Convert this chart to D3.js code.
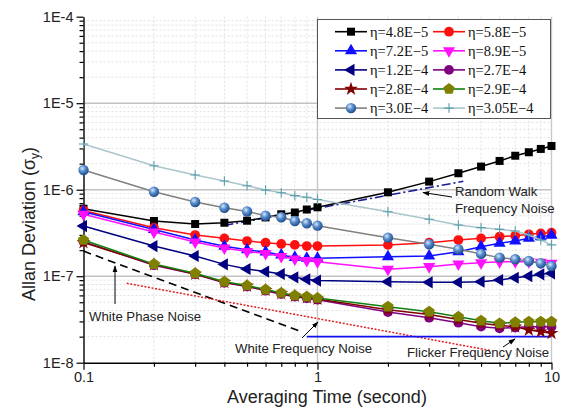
<!DOCTYPE html>
<html>
<head>
<meta charset="utf-8">
<script src="https://cdn.jsdelivr.net/npm/d3@7"></script>
<style>
  body { margin: 0; background: #fff; }
  svg { display: block; }
</style>
</head>
<body>
<svg id="chart" width="564" height="411"></svg>
<script>
// Averaging times (s)
const tau = [0.1, 0.2, 0.3, 0.4, 0.5, 0.6, 0.7, 0.8, 0.9, 1, 2, 3, 4, 5, 6, 7, 8, 9, 10];

// Allan deviation for each coupling value
const eta48  = [6.03e-7, 4.35e-7, 4.01e-7, 4.15e-7, 4.38e-7, 4.78e-7, 5.2e-7, 5.45e-7, 5.9e-7, 6.26e-7, 9.33e-7, 1.24e-6, 1.55e-6, 1.85e-6, 2.15e-6, 2.47e-6, 2.71e-6, 2.96e-6, 3.2e-6];
const eta58  = [5.75e-7, 3.64e-7, 2.99e-7, 2.74e-7, 2.55e-7, 2.44e-7, 2.36e-7, 2.3e-7, 2.23e-7, 2.23e-7, 2.3e-7, 2.44e-7, 2.62e-7, 2.74e-7, 2.86e-7, 2.94e-7, 3.05e-7, 3.13e-7, 3.18e-7];
const eta72  = [5.55e-7, 3.47e-7, 2.62e-7, 2.22e-7, 2.02e-7, 1.9e-7, 1.76e-7, 1.65e-7, 1.61e-7, 1.61e-7, 1.68e-7, 1.71e-7, 1.92e-7, 2.19e-7, 2.4e-7, 2.55e-7, 2.74e-7, 2.86e-7, 2.97e-7];
const eta89  = [5.2e-7, 3.24e-7, 2.49e-7, 2.12e-7, 1.93e-7, 1.83e-7, 1.69e-7, 1.58e-7, 1.52e-7, 1.47e-7, 1.2e-7, 1.29e-7, 1.38e-7, 1.43e-7, 1.47e-7, 1.47e-7, 1.47e-7, 1.45e-7, 1.41e-7];
const eta120 = [3.8e-7, 2.23e-7, 1.71e-7, 1.37e-7, 1.21e-7, 1.13e-7, 1.06e-7, 9.7e-8, 9.2e-8, 8.9e-8, 8.64e-8, 8.5e-8, 8.5e-8, 8.64e-8, 9.04e-8, 9.6e-8, 1.0e-7, 1.05e-7, 1.08e-7];
const eta270 = [2.5e-7, 1.34e-7, 1.05e-7, 8.4e-8, 7.6e-8, 6.8e-8, 6.2e-8, 5.8e-8, 5.55e-8, 5.35e-8, 3.85e-8, 3.31e-8, 2.9e-8, 2.61e-8, 2.5e-8, 2.55e-8, 2.6e-8, 2.6e-8, 2.6e-8];
const eta280 = [2.45e-7, 1.36e-7, 1.06e-7, 8.5e-8, 7.7e-8, 6.9e-8, 6.3e-8, 5.9e-8, 5.65e-8, 5.45e-8, 4.1e-8, 3.6e-8, 3.15e-8, 2.85e-8, 2.7e-8, 2.6e-8, 2.39e-8, 2.28e-8, 2.19e-8];
const eta290 = [2.62e-7, 1.38e-7, 1.08e-7, 8.64e-8, 7.8e-8, 7.0e-8, 6.4e-8, 6.0e-8, 5.8e-8, 5.6e-8, 4.44e-8, 3.89e-8, 3.4e-8, 3.06e-8, 2.85e-8, 2.93e-8, 2.98e-8, 2.98e-8, 2.98e-8];
const eta300 = [1.69e-6, 9.48e-7, 7.21e-7, 6.19e-7, 5.6e-7, 5.0e-7, 4.8e-7, 4.35e-7, 4.09e-7, 3.84e-7, 2.79e-7, 2.34e-7, 2.05e-7, 1.81e-7, 1.64e-7, 1.57e-7, 1.5e-7, 1.41e-7, 1.31e-7];
const eta305 = [3.37e-6, 1.89e-6, 1.48e-6, 1.26e-6, 1.11e-6, 9.9e-7, 9.23e-7, 8.53e-7, 8.17e-7, 7.7e-7, 5.57e-7, 4.55e-7, 3.91e-7, 3.64e-7, 3.48e-7, 3.33e-7, 2.99e-7, 2.62e-7, 2.3e-7];

const seriesLabels = ["η=4.8E−5", "η=5.8E−5", "η=7.2E−5", "η=8.9E−5", "η=1.2E−4",
                      "η=2.7E−4", "η=2.8E−4", "η=2.9E−4", "η=3.0E−4", "η=3.05E−4"];
const seriesValues = [eta48, eta58, eta72, eta89, eta120, eta270, eta280, eta290, eta300, eta305];

// Noise-type guide lines (endpoints in tau, sigma)
const whitePhaseLine = [[0.1, 1.95e-7], [0.85, 2.29e-8]];
const whiteFreqLine  = [[0.153, 8.28e-8], [5.5, 1.38e-8]];
const randomWalkLine = [[0.4, 3.86e-7], [4.2, 1.25e-6]];
const flickerLine    = [[0.9, 2.0e-8], [10, 2.0e-8]];

// Tick labels
const yTickValues = [1e-8, 1e-7, 1e-6, 1e-5, 1e-4];
const yTickLabels = ["1E-8", "1E-7", "1E-6", "1E-5", "1E-4"];
const xTickValues = [0.1, 1, 10];
const xTickLabels = ["0.1", "1", "10"];

// ---- layout ----
const svg = d3.select("#chart");
const L = 83.5, R = 551.5, T = 16.7, B = 362.7;
const x = d3.scaleLog().domain([0.1, 10]).range([L, R]);
const y = d3.scaleLog().domain([1e-8, 1e-4]).range([B, T]);

const defs = svg.append("defs");
const grad = defs.append("radialGradient").attr("id", "sphere")
  .attr("cx", "38%").attr("cy", "35%").attr("r", "65%");
grad.append("stop").attr("offset", "0%").attr("stop-color", "#d9e8f8");
grad.append("stop").attr("offset", "45%").attr("stop-color", "#5b8fcf");
grad.append("stop").attr("offset", "100%").attr("stop-color", "#1f4e8c");

defs.append("marker").attr("id", "arrow")
  .attr("viewBox", "0 0 10 10").attr("refX", 9).attr("refY", 5)
  .attr("markerWidth", 7).attr("markerHeight", 7).attr("orient", "auto")
  .append("path").attr("d", "M0,1.5 L10,5 L0,8.5 Z").attr("fill", "#000");

// minor values
const yMinor = [];
[1e-8, 1e-7, 1e-6, 1e-5].forEach(d => { for (let k = 2; k <= 9; k++) yMinor.push(k * d); });
const xMinor = [];
[0.1, 1].forEach(d => { for (let k = 2; k <= 9; k++) xMinor.push(k * d); });

// ---- grid ----
const grid = svg.append("g");
grid.selectAll(".hmin").data(yMinor).join("line")
  .attr("x1", L).attr("x2", R).attr("y1", d => y(d)).attr("y2", d => y(d))
  .attr("stroke", "#dcdcdc").attr("stroke-width", 0.9).attr("stroke-dasharray", "2,2");
grid.selectAll(".vmin").data(xMinor).join("line")
  .attr("y1", T).attr("y2", B).attr("x1", d => x(d)).attr("x2", d => x(d))
  .attr("stroke", "#dcdcdc").attr("stroke-width", 0.9).attr("stroke-dasharray", "2,2");
grid.selectAll(".hmaj").data([1e-7, 1e-6, 1e-5]).join("line")
  .attr("x1", L).attr("x2", R).attr("y1", d => y(d)).attr("y2", d => y(d))
  .attr("stroke", "#c2c2c2").attr("stroke-width", 1.6);
grid.selectAll(".vmaj").data([1, 10]).join("line")
  .attr("y1", T).attr("y2", B).attr("x1", d => x(d)).attr("x2", d => x(d))
  .attr("stroke", "#c8c8c8").attr("stroke-width", 1.4);

// ---- axes ----
const fontSans = "'Liberation Sans', Arial, sans-serif";
svg.append("g").attr("transform", `translate(${L},0)`)
  .call(d3.axisLeft(y).tickValues(yTickValues).tickFormat((d, i) => yTickLabels[i])
    .tickSize(7).tickSizeOuter(0).tickPadding(3));
svg.append("g").attr("transform", `translate(${L},0)`)
  .call(d3.axisLeft(y).tickValues(yMinor).tickFormat("").tickSize(4).tickSizeOuter(0))
  .select(".domain").remove();
svg.append("g").attr("transform", `translate(0,${B})`)
  .call(d3.axisBottom(x).tickValues(xTickValues).tickFormat((d, i) => xTickLabels[i])
    .tickSize(7).tickSizeOuter(0).tickPadding(2));
svg.append("g").attr("transform", `translate(0,${B})`)
  .call(d3.axisBottom(x).tickValues(xMinor).tickFormat("").tickSize(4).tickSizeOuter(0))
  .select(".domain").remove();
svg.selectAll(".tick line").attr("stroke", "#000").attr("stroke-width", 1.2);
svg.selectAll(".domain").attr("stroke", "#000").attr("stroke-width", 1.4);
svg.selectAll(".tick text").attr("font-family", fontSans).attr("font-size", 14.5).attr("fill", "#222");

// axis titles
svg.append("text").attr("x", 327).attr("y", 402.5).attr("text-anchor", "middle")
  .attr("font-family", fontSans).attr("font-size", 18).attr("fill", "#222")
  .text("Averaging Time (second)");
const yt = svg.append("text").attr("transform", "translate(35,224) rotate(-90)")
  .attr("text-anchor", "middle").attr("font-family", fontSans).attr("font-size", 18).attr("fill", "#222");
yt.append("tspan").text("Allan Deviation (σ");
yt.append("tspan").attr("font-size", 12).attr("dy", 4).text("y");
yt.append("tspan").attr("dy", -4).text(")");

// ---- guide lines ----
const line = d3.line().x(d => x(d[0])).y(d => y(d[1]));
svg.append("path").attr("d", line(whitePhaseLine)).attr("fill", "none")
  .attr("stroke", "#000").attr("stroke-width", 1.6).attr("stroke-dasharray", "8,5");
svg.append("path").attr("d", line(whiteFreqLine)).attr("fill", "none")
  .attr("stroke", "#e02020").attr("stroke-width", 1.5).attr("stroke-dasharray", "2,1.6");
svg.append("path").attr("d", line(randomWalkLine)).attr("fill", "none")
  .attr("stroke", "#1a1a9a").attr("stroke-width", 1.6).attr("stroke-dasharray", "9,3,2,3");
svg.append("path").attr("d", line(flickerLine)).attr("fill", "none")
  .attr("stroke", "#1010ee").attr("stroke-width", 1.6);

// ---- series ----
const pentagon = {
  draw(ctx, size) {
    const r = Math.sqrt(size / (2.5 * Math.sin(2 * Math.PI / 5)));
    for (let i = 0; i < 5; i++) {
      const a = -Math.PI / 2 + i * 2 * Math.PI / 5;
      const px = r * Math.cos(a), py = r * Math.sin(a);
      if (i === 0) ctx.moveTo(px, py); else ctx.lineTo(px, py);
    }
    ctx.closePath();
  }
};
const plus = {
  draw(ctx, size) {
    const r = Math.sqrt(size) / 2;
    ctx.moveTo(-r, 0); ctx.lineTo(r, 0);
    ctx.moveTo(0, -r); ctx.lineTo(0, r);
  }
};
const styles = [
  { line: "#000000", fill: "#000000", type: d3.symbolSquare,   size: 64, rot: 0 },
  { line: "#ff1010", fill: "#ff1010", type: d3.symbolCircle,   size: 75, rot: 0 },
  { line: "#1010ff", fill: "#1010ff", type: d3.symbolTriangle, size: 64, rot: 0 },
  { line: "#ff10ff", fill: "#ff10ff", type: d3.symbolTriangle, size: 64, rot: 180 },
  { line: "#000080", fill: "#000080", type: d3.symbolTriangle, size: 64, rot: -90 },
  { line: "#800080", fill: "#800080", type: d3.symbolCircle,   size: 75, rot: 0 },
  { line: "#800000", fill: "#800000", type: d3.symbolStar,     size: 60, rot: 0 },
  { line: "#108010", fill: "#808000", type: pentagon,          size: 85, rot: 0 },
  { line: "#808080", fill: "url(#sphere)", type: d3.symbolCircle, size: 85, rot: 0 },
  { line: "#aac6cc", fill: "none",   type: plus,               size: 90, rot: 0, stroke: "#5a9fab" }
];

const seriesLine = d3.line().x((d, i) => x(tau[i])).y(d => y(d));
seriesValues.forEach((vals, si) => {
  const st = styles[si];
  const g = svg.append("g");
  g.append("path").attr("d", seriesLine(vals)).attr("fill", "none")
    .attr("stroke", st.line).attr("stroke-width", 1.5);
  const sym = d3.symbol().type(st.type).size(st.size);
  g.selectAll("path.m").data(vals).join("path").attr("class", "m")
    .attr("d", sym())
    .attr("transform", (d, i) => `translate(${x(tau[i])},${y(d)}) rotate(${st.rot})`)
    .attr("fill", st.fill)
    .attr("stroke", st.stroke || "none").attr("stroke-width", 1.1);
});

// ---- legend ----
const lg = svg.append("g");
lg.append("rect").attr("x", 317.5).attr("y", 19.5).attr("width", 233).attr("height", 99)
  .attr("fill", "#fff").attr("stroke", "#555").attr("stroke-width", 1);
seriesLabels.forEach((lab, i) => {
  const col = i % 2, row = Math.floor(i / 2);
  const x0 = col === 0 ? 335 : 433;
  const yy = 31.7 + row * 19.1;
  const st = styles[i];
  lg.append("line").attr("x1", x0).attr("x2", x0 + 32).attr("y1", yy).attr("y2", yy)
    .attr("stroke", st.line).attr("stroke-width", 1.6);
  lg.append("path").attr("d", d3.symbol().type(st.type).size(st.size)())
    .attr("transform", `translate(${x0 + 16},${yy}) rotate(${st.rot})`)
    .attr("fill", st.fill).attr("stroke", st.stroke || "none").attr("stroke-width", 1.1);
  lg.append("text").attr("x", x0 + 35).attr("y", yy + 5)
    .attr("font-family", "'Liberation Serif', 'Times New Roman', serif")
    .attr("font-size", 14.5).attr("fill", "#111").text(lab);
});

// ---- annotations ----
const ann = svg.append("g").attr("font-family", fontSans).attr("font-size", 13.2).attr("fill", "#222");
ann.append("text").attr("x", 89).attr("y", 321).text("White Phase Noise");
ann.append("text").attr("x", 235).attr("y", 352.5).text("White Frequency Noise");
ann.append("text").attr("x", 407).attr("y", 356.5).text("Flicker Frequency Noise");
ann.append("text").attr("x", 455).attr("y", 196).text("Random Walk");
ann.append("text").attr("x", 455).attr("y", 212.7).text("Frequency Noise");

const arrows = [
  [[115, 304], [115, 266]],
  [[302, 338], [318, 322]],
  [[503, 347], [515, 339]],
  [[452, 197], [423, 192.5]]
];
svg.append("g").selectAll("line").data(arrows).join("line")
  .attr("x1", d => d[0][0]).attr("y1", d => d[0][1])
  .attr("x2", d => d[1][0]).attr("y2", d => d[1][1])
  .attr("stroke", "#000").attr("stroke-width", 1)
  .attr("marker-end", "url(#arrow)");
</script>
</body>
</html>
